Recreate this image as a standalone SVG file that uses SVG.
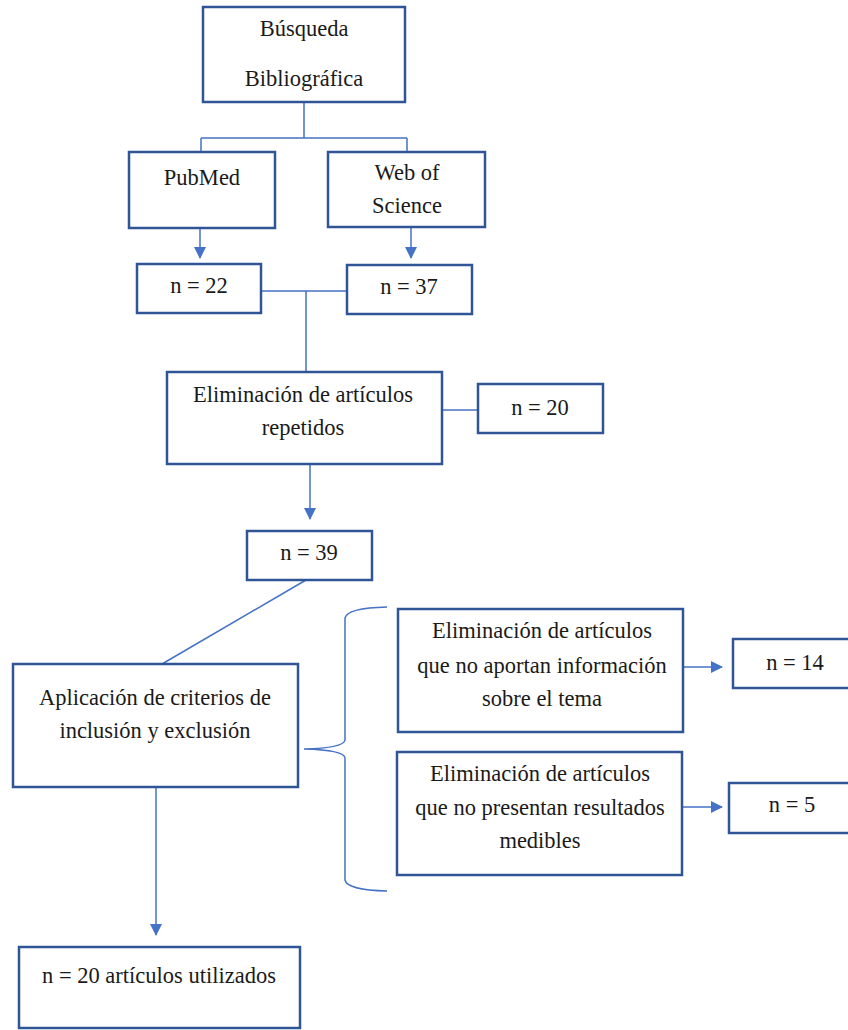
<svg xmlns="http://www.w3.org/2000/svg" width="848" height="1030" viewBox="0 0 848 1030">
<defs>
<style>
.box{fill:#fff;stroke:#2F5597;stroke-width:2.5}
.t{font-family:"Liberation Serif","Times New Roman",Tinos,"Noto Serif","DejaVu Serif",serif;font-size:22.5px;fill:#1a1a1a;text-anchor:middle}
.c{fill:none;stroke:#4472C4;stroke-width:1.5}
</style>
<marker id="ah" markerWidth="12" markerHeight="12" refX="11" refY="6" orient="auto" markerUnits="userSpaceOnUse" viewBox="0 0 12 12">
<path d="M0,0 L12,6 L0,12 z" fill="#4472C4"/>
</marker>
</defs>
<rect width="848" height="1030" fill="#fff"/>
<g id="connectors">
<path class="c" d="M304,102 V138 M201,138 H407 M201,138 V152 M407,138 V152"/>
<path class="c" d="M200,228 V258" marker-end="url(#ah)"/>
<path class="c" d="M411,227 V258" marker-end="url(#ah)"/>
<path class="c" d="M261,291 H347 M306,291 V372"/>
<path class="c" d="M442,410 H478"/>
<path class="c" d="M310,464 V519" marker-end="url(#ah)"/>
<path class="c" d="M306,580 L162,664"/>
<path class="c" d="M156,787 V935" marker-end="url(#ah)"/>
<path class="c" d="M387,607 Q347,608 345,618 L345,740 Q344,748 304,749 Q344,750 345,758 L345,880 Q347,890 387,891"/>
<path class="c" d="M683,667 H722" marker-end="url(#ah)"/>
<path class="c" d="M682,807 H722" marker-end="url(#ah)"/>
</g>
<g id="busqueda">
<rect class="box" x="203" y="7" width="202" height="95"/>
<text class="t" x="304" y="36">Búsqueda</text>
<text class="t" x="304" y="86">Bibliográfica</text>
</g>
<g id="pubmed">
<rect class="box" x="129" y="152" width="146" height="76"/>
<text class="t" x="202" y="185">PubMed</text>
</g>
<g id="wos">
<rect class="box" x="328" y="152" width="157" height="75"/>
<text class="t" x="407" y="180">Web of</text>
<text class="t" x="407" y="213">Science</text>
</g>
<g id="n22">
<rect class="box" x="137" y="264" width="124" height="49"/>
<text class="t" x="199" y="293">n = 22</text>
</g>
<g id="n37">
<rect class="box" x="347" y="265" width="125" height="49"/>
<text class="t" x="409" y="294">n = 37</text>
</g>
<g id="repetidos">
<rect class="box" x="167" y="372" width="275" height="92"/>
<text class="t" x="303" y="402">Eliminación de artículos</text>
<text class="t" x="303" y="435">repetidos</text>
</g>
<g id="n20">
<rect class="box" x="478" y="384" width="125" height="49"/>
<text class="t" x="540" y="415">n = 20</text>
</g>
<g id="n39">
<rect class="box" x="247" y="531" width="125" height="49"/>
<text class="t" x="309" y="560">n = 39</text>
</g>
<g id="aplicacion">
<rect class="box" x="13" y="664" width="285" height="123"/>
<text class="t" x="155" y="705">Aplicación de criterios de</text>
<text class="t" x="155" y="738">inclusión y exclusión</text>
</g>
<g id="info">
<rect class="box" x="398" y="609" width="285" height="123"/>
<text class="t" x="542" y="638">Eliminación de artículos</text>
<text class="t" x="542" y="673">que no aportan información</text>
<text class="t" x="542" y="706">sobre el tema</text>
</g>
<g id="n14">
<rect class="box" x="733" y="639" width="130" height="49"/>
<text class="t" x="795" y="670">n = 14</text>
</g>
<g id="medibles">
<rect class="box" x="397" y="752" width="285" height="123"/>
<text class="t" x="540" y="781">Eliminación de artículos</text>
<text class="t" x="540" y="815">que no presentan resultados</text>
<text class="t" x="540" y="848">medibles</text>
</g>
<g id="n5">
<rect class="box" x="729" y="783" width="130" height="50"/>
<text class="t" x="792" y="812">n = 5</text>
</g>
<g id="final">
<rect class="box" x="19" y="947" width="281" height="81"/>
<text class="t" x="159" y="983">n = 20 artículos utilizados</text>
</g>
</svg>
